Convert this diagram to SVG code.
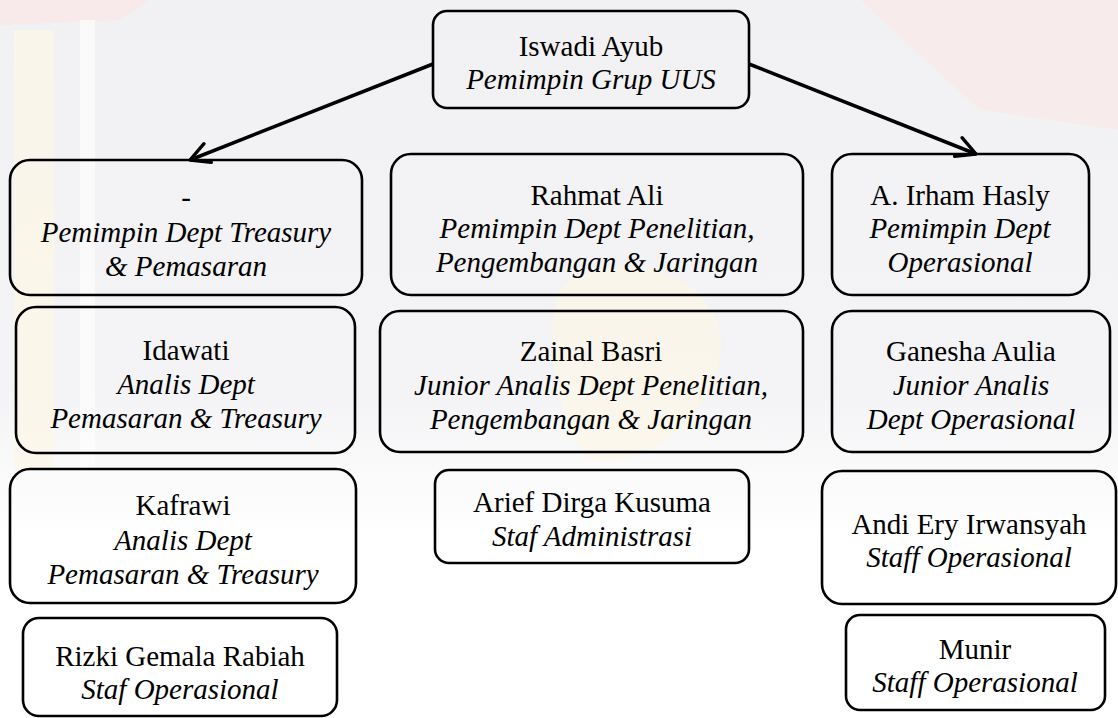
<svg xmlns="http://www.w3.org/2000/svg" width="1118" height="718" viewBox="0 0 1118 718">
  <defs>
    <style>
      .box { fill: none; stroke: #000; stroke-width: 2.6; }
      .t { font-family: "Liberation Serif", "Times New Roman", serif; font-size: 29px; fill: #000; text-anchor: middle; }
      .i { font-style: italic; }
      .conn { stroke: #000; stroke-width: 3.5; fill: none; }
    </style>
    <linearGradient id="bg" x1="0" y1="0" x2="0" y2="1">
      <stop offset="0" stop-color="#f1f1f3"/>
      <stop offset="0.55" stop-color="#f4f4f6"/>
      <stop offset="0.75" stop-color="#ffffff"/>
      <stop offset="1" stop-color="#ffffff"/>
    </linearGradient>
    <marker id="arrow" viewBox="0 0 26 26" refX="22" refY="13" markerWidth="26" markerHeight="26" markerUnits="userSpaceOnUse" orient="auto">
      <path d="M3,3 L22,13 L3,23" fill="none" stroke="#000" stroke-width="3.4" stroke-linecap="round" stroke-linejoin="round"/>
    </marker>
  </defs>

  <g id="background">
    <rect x="0" y="0" width="1118" height="718" fill="url(#bg)"/>
    <path d="M860,0 L1118,0 L1118,130 L980,110 Z" fill="#fbe8e8" opacity="0.7"/>
    <path d="M0,0 L150,0 L120,20 L0,25 Z" fill="#fbe6e6" opacity="0.7"/>
    <rect x="14" y="30" width="40" height="440" fill="#fdf6e6" opacity="0.7"/>
    <path d="M560,290 C600,250 700,260 720,330 C730,400 660,470 590,460 C560,430 540,340 560,290 Z" fill="#fdf6e4" opacity="0.6"/>
    <path d="M80,20 L95,20 L95,470 L80,470 Z" fill="#ffffff" opacity="0.6"/>
  </g>

  <g id="connectors">
    <line class="conn" x1="433" y1="64" x2="190" y2="160" marker-end="url(#arrow)"/>
    <line class="conn" x1="749" y1="64" x2="976" y2="154" marker-end="url(#arrow)"/>
  </g>

  <g id="n-iswadi">
    <rect class="box" x="433" y="11" width="316" height="97" rx="14"/>
    <text class="t" x="591" y="56">Iswadi Ayub</text>
    <text class="t i" x="591" y="89">Pemimpin Grup UUS</text>
  </g>

  <g id="n-treasury">
    <rect class="box" x="10" y="160" width="352" height="135" rx="20"/>
    <text class="t" x="186" y="207">-</text>
    <text class="t i" x="186" y="242">Pemimpin Dept Treasury</text>
    <text class="t i" x="186" y="276">&amp; Pemasaran</text>
  </g>

  <g id="n-idawati">
    <rect class="box" x="16" y="307" width="339" height="146" rx="20"/>
    <text class="t" x="186" y="360">Idawati</text>
    <text class="t i" x="186" y="394">Analis Dept</text>
    <text class="t i" x="186" y="428">Pemasaran &amp; Treasury</text>
  </g>

  <g id="n-kafrawi">
    <rect class="box" x="10" y="469" width="346" height="134" rx="20"/>
    <text class="t" x="183" y="515">Kafrawi</text>
    <text class="t i" x="183" y="550">Analis Dept</text>
    <text class="t i" x="183" y="584">Pemasaran &amp; Treasury</text>
  </g>

  <g id="n-rizki">
    <rect class="box" x="23" y="618" width="314" height="98" rx="16"/>
    <text class="t" x="180" y="666">Rizki Gemala Rabiah</text>
    <text class="t i" x="180" y="699">Staf Operasional</text>
  </g>

  <g id="n-rahmat">
    <rect class="box" x="391" y="154" width="412" height="141" rx="20"/>
    <text class="t" x="597" y="205">Rahmat Ali</text>
    <text class="t i" x="597" y="238">Pemimpin Dept Penelitian,</text>
    <text class="t i" x="597" y="272">Pengembangan &amp; Jaringan</text>
  </g>

  <g id="n-zainal">
    <rect class="box" x="380" y="311" width="423" height="141" rx="20"/>
    <text class="t" x="591" y="361">Zainal Basri</text>
    <text class="t i" x="591" y="395">Junior Analis Dept Penelitian,</text>
    <text class="t i" x="591" y="429">Pengembangan &amp; Jaringan</text>
  </g>

  <g id="n-arief">
    <rect class="box" x="435" y="470" width="314" height="93" rx="14"/>
    <text class="t" x="592" y="512">Arief Dirga Kusuma</text>
    <text class="t i" x="592" y="546">Staf Administrasi</text>
  </g>

  <g id="n-irham">
    <rect class="box" x="832" y="154" width="257" height="141" rx="20"/>
    <text class="t" x="960" y="205">A. Irham Hasly</text>
    <text class="t i" x="960" y="238">Pemimpin Dept</text>
    <text class="t i" x="960" y="272">Operasional</text>
  </g>

  <g id="n-ganesha">
    <rect class="box" x="832" y="311" width="278" height="141" rx="20"/>
    <text class="t" x="971" y="361">Ganesha Aulia</text>
    <text class="t i" x="971" y="395">Junior Analis</text>
    <text class="t i" x="971" y="429">Dept Operasional</text>
  </g>

  <g id="n-andi">
    <rect class="box" x="822" y="471" width="294" height="133" rx="20"/>
    <text class="t" x="969" y="534">Andi Ery Irwansyah</text>
    <text class="t i" x="969" y="567">Staff Operasional</text>
  </g>

  <g id="n-munir">
    <rect class="box" x="846" y="615" width="259" height="95" rx="14"/>
    <text class="t" x="975" y="659">Munir</text>
    <text class="t i" x="975" y="692">Staff Operasional</text>
  </g>
</svg>
